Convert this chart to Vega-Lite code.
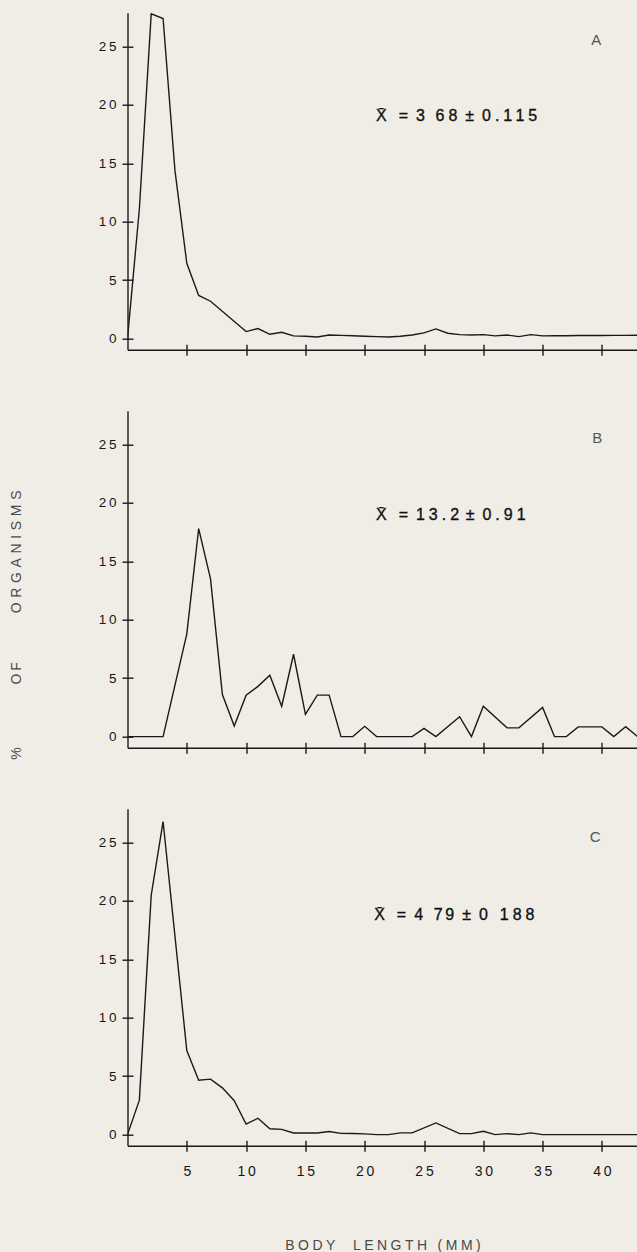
{
  "$schema": "https://vega.github.io/schema/vega-lite/v6.json",
  "background": "#f0ede7",
  "padding": {"left": 9.5, "top": 12.7, "right": 0, "bottom": 0},
  "bounds": "flush",
  "spacing": 61,
  "config": {
    "view": {"stroke": null},
    "font": "Liberation Sans",
    "axis": {"grid": false, "domainColor": "#1a1a1a", "domainWidth": 1.4, "tickColor": "#1a1a1a", "tickWidth": 1.4, "labelColor": "#151515", "labelFont": "Liberation Sans", "titleFont": "Liberation Sans"}
  },
  "datasets": {
    "dist": [
      {"panel": "A", "length": 0, "pct": 0},
      {"panel": "A", "length": 1, "pct": 11.1},
      {"panel": "A", "length": 2, "pct": 27.8},
      {"panel": "A", "length": 3, "pct": 27.4},
      {"panel": "A", "length": 4, "pct": 14.4},
      {"panel": "A", "length": 5, "pct": 6.45},
      {"panel": "A", "length": 6, "pct": 3.7},
      {"panel": "A", "length": 7, "pct": 3.2},
      {"panel": "A", "length": 10, "pct": 0.6},
      {"panel": "A", "length": 11, "pct": 0.86},
      {"panel": "A", "length": 12, "pct": 0.37},
      {"panel": "A", "length": 13, "pct": 0.54},
      {"panel": "A", "length": 14, "pct": 0.23},
      {"panel": "A", "length": 15, "pct": 0.2},
      {"panel": "A", "length": 16, "pct": 0.14},
      {"panel": "A", "length": 17, "pct": 0.31},
      {"panel": "A", "length": 18, "pct": 0.28},
      {"panel": "A", "length": 19, "pct": 0.25},
      {"panel": "A", "length": 20, "pct": 0.2},
      {"panel": "A", "length": 21, "pct": 0.17},
      {"panel": "A", "length": 22, "pct": 0.14},
      {"panel": "A", "length": 23, "pct": 0.2},
      {"panel": "A", "length": 24, "pct": 0.31},
      {"panel": "A", "length": 25, "pct": 0.49},
      {"panel": "A", "length": 26, "pct": 0.83},
      {"panel": "A", "length": 27, "pct": 0.46},
      {"panel": "A", "length": 28, "pct": 0.34},
      {"panel": "A", "length": 29, "pct": 0.31},
      {"panel": "A", "length": 30, "pct": 0.34},
      {"panel": "A", "length": 31, "pct": 0.23},
      {"panel": "A", "length": 32, "pct": 0.31},
      {"panel": "A", "length": 33, "pct": 0.17},
      {"panel": "A", "length": 34, "pct": 0.34},
      {"panel": "A", "length": 35, "pct": 0.23},
      {"panel": "A", "length": 36, "pct": 0.25},
      {"panel": "A", "length": 37, "pct": 0.25},
      {"panel": "A", "length": 38, "pct": 0.26},
      {"panel": "A", "length": 39, "pct": 0.26},
      {"panel": "A", "length": 40, "pct": 0.27},
      {"panel": "A", "length": 41, "pct": 0.28},
      {"panel": "A", "length": 42, "pct": 0.28},
      {"panel": "A", "length": 43, "pct": 0.29},
      {"panel": "B", "length": 0, "pct": 0},
      {"panel": "B", "length": 1, "pct": 0},
      {"panel": "B", "length": 2, "pct": 0},
      {"panel": "B", "length": 3, "pct": 0},
      {"panel": "B", "length": 5, "pct": 8.8},
      {"panel": "B", "length": 6, "pct": 17.8},
      {"panel": "B", "length": 7, "pct": 13.5},
      {"panel": "B", "length": 8, "pct": 3.6},
      {"panel": "B", "length": 9, "pct": 0.9},
      {"panel": "B", "length": 10, "pct": 3.55},
      {"panel": "B", "length": 11, "pct": 4.3},
      {"panel": "B", "length": 12, "pct": 5.25},
      {"panel": "B", "length": 13, "pct": 2.6},
      {"panel": "B", "length": 14, "pct": 7.05},
      {"panel": "B", "length": 15, "pct": 1.9},
      {"panel": "B", "length": 16, "pct": 3.55},
      {"panel": "B", "length": 17, "pct": 3.55},
      {"panel": "B", "length": 18, "pct": 0},
      {"panel": "B", "length": 19, "pct": 0},
      {"panel": "B", "length": 20, "pct": 0.88},
      {"panel": "B", "length": 21, "pct": 0},
      {"panel": "B", "length": 22, "pct": 0},
      {"panel": "B", "length": 23, "pct": 0},
      {"panel": "B", "length": 24, "pct": 0},
      {"panel": "B", "length": 25, "pct": 0.7},
      {"panel": "B", "length": 26, "pct": 0},
      {"panel": "B", "length": 28, "pct": 1.7},
      {"panel": "B", "length": 29, "pct": 0},
      {"panel": "B", "length": 30, "pct": 2.6},
      {"panel": "B", "length": 32, "pct": 0.75},
      {"panel": "B", "length": 33, "pct": 0.75},
      {"panel": "B", "length": 35, "pct": 2.5},
      {"panel": "B", "length": 36, "pct": 0},
      {"panel": "B", "length": 37, "pct": 0},
      {"panel": "B", "length": 38, "pct": 0.83},
      {"panel": "B", "length": 39, "pct": 0.83},
      {"panel": "B", "length": 40, "pct": 0.83},
      {"panel": "B", "length": 41, "pct": 0},
      {"panel": "B", "length": 42, "pct": 0.85},
      {"panel": "B", "length": 43, "pct": 0},
      {"panel": "C", "length": 0, "pct": 0},
      {"panel": "C", "length": 1, "pct": 2.95},
      {"panel": "C", "length": 2, "pct": 20.5},
      {"panel": "C", "length": 3, "pct": 26.8},
      {"panel": "C", "length": 5, "pct": 7.2},
      {"panel": "C", "length": 6, "pct": 4.65},
      {"panel": "C", "length": 7, "pct": 4.75},
      {"panel": "C", "length": 8, "pct": 4.0},
      {"panel": "C", "length": 9, "pct": 2.9},
      {"panel": "C", "length": 10, "pct": 0.9},
      {"panel": "C", "length": 11, "pct": 1.4},
      {"panel": "C", "length": 12, "pct": 0.5},
      {"panel": "C", "length": 13, "pct": 0.45},
      {"panel": "C", "length": 14, "pct": 0.14},
      {"panel": "C", "length": 15, "pct": 0.14},
      {"panel": "C", "length": 16, "pct": 0.14},
      {"panel": "C", "length": 17, "pct": 0.26},
      {"panel": "C", "length": 18, "pct": 0.1},
      {"panel": "C", "length": 19, "pct": 0.09},
      {"panel": "C", "length": 20, "pct": 0.06},
      {"panel": "C", "length": 21, "pct": 0},
      {"panel": "C", "length": 22, "pct": 0},
      {"panel": "C", "length": 23, "pct": 0.15},
      {"panel": "C", "length": 24, "pct": 0.15},
      {"panel": "C", "length": 26, "pct": 1.0},
      {"panel": "C", "length": 28, "pct": 0.08},
      {"panel": "C", "length": 29, "pct": 0.08},
      {"panel": "C", "length": 30, "pct": 0.28},
      {"panel": "C", "length": 31, "pct": 0},
      {"panel": "C", "length": 32, "pct": 0.08},
      {"panel": "C", "length": 33, "pct": 0},
      {"panel": "C", "length": 34, "pct": 0.15},
      {"panel": "C", "length": 35, "pct": 0},
      {"panel": "C", "length": 36, "pct": 0},
      {"panel": "C", "length": 38, "pct": 0},
      {"panel": "C", "length": 40, "pct": 0},
      {"panel": "C", "length": 43, "pct": 0}
    ]
  },
  "vconcat": [
    {
      "width": 510, "height": 337,
      "data": {"name": "dist"},
      "transform": [{"filter": "datum.panel === 'A'"}],
      "resolve": {"axis": {"x": "independent", "y": "independent"}},
      "layer": [
        {
          "mark": {"type": "line", "color": "#1a1a1a", "strokeWidth": 1.4, "clip": true},
          "encoding": {
            "x": {"field": "length", "type": "quantitative", "scale": {"domain": [0, 43], "nice": false, "zero": false},
                  "axis": {"orient": "bottom", "values": [5, 10, 15, 20, 25, 30, 35, 40], "labels": false, "tickSize": 5.5, "title": null}},
            "y": {"field": "pct", "type": "quantitative", "scale": {"domain": [-0.95, 27.9], "nice": false, "zero": false},
                  "axis": {"orient": "left", "values": [0, 5, 10, 15, 20, 25], "tickSize": 5.5, "labelPadding": 6, "labelFontSize": 13.5, "labelExpr": "join(split(datum.label, ''), '\u2009')", "title": null}}
          }
        },
        {
          "mark": {"type": "line", "strokeOpacity": 0},
          "encoding": {
            "x": {"field": "length", "type": "quantitative", "axis": {"orient": "bottom", "values": [5, 10, 15, 20, 25, 30, 35, 40], "labels": false, "domain": false, "tickSize": -5.5, "title": null}},
            "y": {"field": "pct", "type": "quantitative", "axis": {"orient": "left", "values": [0, 5, 10, 15, 20, 25], "labels": false, "domain": false, "tickSize": -5.5, "title": null}}
          }
        },
        {
          "data": {"values": [{}]},
          "mark": {"type": "text", "align": "left", "baseline": "middle", "fontSize": 16, "color": "#111111", "stroke": "#111111", "strokeWidth": 0.35, "text": "X\u0304\u2002\u2005=\u20023\u2002\u20066\u20058\u2002±\u20020\u2005.\u20051\u20091\u20055"},
          "encoding": {"x": {"datum": 20.95, "type": "quantitative", "axis": null}, "y": {"datum": 19.05, "type": "quantitative", "axis": null}}
        },
        {
          "data": {"values": [{}]},
          "mark": {"type": "text", "align": "center", "baseline": "middle", "fontSize": 15, "color": "#555555", "text": "A"},
          "encoding": {"x": {"datum": 39.52, "type": "quantitative", "axis": null}, "y": {"datum": 25.56, "type": "quantitative", "axis": null}}
        }
      ]
    },
    {
      "width": 510, "height": 337,
      "data": {"name": "dist"},
      "transform": [{"filter": "datum.panel === 'B'"}],
      "resolve": {"axis": {"x": "independent", "y": "independent"}},
      "layer": [
        {
          "mark": {"type": "line", "color": "#1a1a1a", "strokeWidth": 1.4, "clip": true},
          "encoding": {
            "x": {"field": "length", "type": "quantitative", "scale": {"domain": [0, 43], "nice": false, "zero": false},
                  "axis": {"orient": "bottom", "values": [5, 10, 15, 20, 25, 30, 35, 40], "labels": false, "tickSize": 5.5, "title": null}},
            "y": {"field": "pct", "type": "quantitative", "scale": {"domain": [-0.95, 27.9], "nice": false, "zero": false},
                  "axis": {"orient": "left", "values": [0, 5, 10, 15, 20, 25], "tickSize": 5.5, "labelPadding": 6, "labelFontSize": 13.5, "labelExpr": "join(split(datum.label, ''), '\u2009')",
                           "title": "%\u2003\u2003\u2003\u2003\u2002O\u2009F\u2003\u2003\u2003\u2002O\u2004R\u2004G\u2004A\u2004N\u2004I\u2004S\u2004M\u2004S",
                           "titleX": -110.8, "titleY": 214, "titleAngle": -90, "titleAlign": "center", "titleBaseline": "middle", "titleFontSize": 14, "titleFontWeight": "normal", "titleColor": "#4a4a4a"}}
          }
        },
        {
          "mark": {"type": "line", "strokeOpacity": 0},
          "encoding": {
            "x": {"field": "length", "type": "quantitative", "axis": {"orient": "bottom", "values": [5, 10, 15, 20, 25, 30, 35, 40], "labels": false, "domain": false, "tickSize": -5.5, "title": null}},
            "y": {"field": "pct", "type": "quantitative", "axis": {"orient": "left", "values": [0, 5, 10, 15, 20, 25], "labels": false, "domain": false, "tickSize": -5.5, "title": null}}
          }
        },
        {
          "data": {"values": [{}]},
          "mark": {"type": "text", "align": "left", "baseline": "middle", "fontSize": 16, "color": "#111111", "stroke": "#111111", "strokeWidth": 0.35, "text": "X\u0304\u2002\u2005=\u20021\u20053\u2005.\u20052\u2005\u2006±\u20020\u2005.\u20059\u20051"},
          "encoding": {"x": {"datum": 20.95, "type": "quantitative", "axis": null}, "y": {"datum": 18.95, "type": "quantitative", "axis": null}}
        },
        {
          "data": {"values": [{}]},
          "mark": {"type": "text", "align": "center", "baseline": "middle", "fontSize": 15, "color": "#555555", "text": "B"},
          "encoding": {"x": {"datum": 39.6, "type": "quantitative", "axis": null}, "y": {"datum": 25.56, "type": "quantitative", "axis": null}}
        }
      ]
    },
    {
      "width": 510, "height": 337,
      "data": {"name": "dist"},
      "transform": [{"filter": "datum.panel === 'C'"}],
      "resolve": {"axis": {"x": "independent", "y": "independent"}},
      "layer": [
        {
          "mark": {"type": "line", "color": "#1a1a1a", "strokeWidth": 1.4, "clip": true},
          "encoding": {
            "x": {"field": "length", "type": "quantitative", "scale": {"domain": [0, 43], "nice": false, "zero": false},
                  "axis": {"orient": "bottom", "values": [5, 10, 15, 20, 25, 30, 35, 40], "tickSize": 5.5, "labelPadding": 13, "labelFontSize": 14, "labelExpr": "join(split(datum.label, ''), '\u2009')",
                           "title": "B\u2005O\u2005D\u2005Y\u2003\u2005L\u2005E\u2005N\u2005G\u2005T\u2005H\u2002\u2005(\u2005M\u2005M\u2005)",
                           "titleY": 100, "titleBaseline": "middle", "titleFontSize": 14, "titleFontWeight": "normal", "titleColor": "#4a4a4a"}},
            "y": {"field": "pct", "type": "quantitative", "scale": {"domain": [-0.95, 27.9], "nice": false, "zero": false},
                  "axis": {"orient": "left", "values": [0, 5, 10, 15, 20, 25], "tickSize": 5.5, "labelPadding": 6, "labelFontSize": 13.5, "labelExpr": "join(split(datum.label, ''), '\u2009')", "title": null}}
          }
        },
        {
          "mark": {"type": "line", "strokeOpacity": 0},
          "encoding": {
            "x": {"field": "length", "type": "quantitative", "axis": {"orient": "bottom", "values": [5, 10, 15, 20, 25, 30, 35, 40], "labels": false, "domain": false, "tickSize": -5.5, "title": null}},
            "y": {"field": "pct", "type": "quantitative", "axis": {"orient": "left", "values": [0, 5, 10, 15, 20, 25], "labels": false, "domain": false, "tickSize": -5.5, "title": null}}
          }
        },
        {
          "data": {"values": [{}]},
          "mark": {"type": "text", "align": "left", "baseline": "middle", "fontSize": 16, "color": "#111111", "stroke": "#111111", "strokeWidth": 0.35, "text": "X\u0304\u2002\u2005=\u20024\u2002\u20067\u20069\u2002±\u20020\u2002\u20051\u20058\u20058"},
          "encoding": {"x": {"datum": 20.8, "type": "quantitative", "axis": null}, "y": {"datum": 18.8, "type": "quantitative", "axis": null}}
        },
        {
          "data": {"values": [{}]},
          "mark": {"type": "text", "align": "center", "baseline": "middle", "fontSize": 15, "color": "#555555", "text": "C"},
          "encoding": {"x": {"datum": 39.43, "type": "quantitative", "axis": null}, "y": {"datum": 25.47, "type": "quantitative", "axis": null}}
        }
      ]
    }
  ]
}
